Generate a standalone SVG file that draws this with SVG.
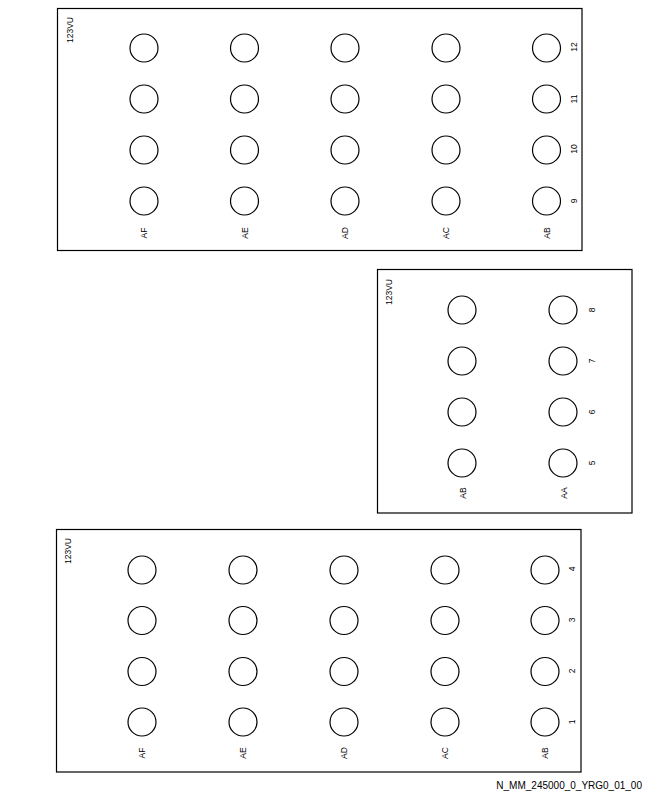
<svg xmlns="http://www.w3.org/2000/svg" width="648" height="792" viewBox="0 0 648 792">
<style>
.box{fill:#fff;stroke:#000;stroke-width:1.2}
.c{fill:#fff;stroke:#000;stroke-width:1.2}
.t{font-family:"Liberation Sans",Arial,sans-serif;font-size:8.5px;fill:#000;text-anchor:middle}
.s{font-family:"Liberation Sans",Arial,sans-serif;font-size:8.5px;fill:#000;text-anchor:start}
.f{font-family:"Liberation Sans",Arial,sans-serif;font-size:10px;fill:#000;text-anchor:end}
</style>
<rect width="648" height="792" fill="#fff"/>
<g id="panel-top">
<rect class="box" x="57.5" y="8.5" width="524.5" height="242"/>
<text class="s" transform="translate(73,43) rotate(-90)">123VU</text>
<g id="top-circles">
<circle class="c" cx="144" cy="48" r="14"/><circle class="c" cx="244.5" cy="48" r="14"/><circle class="c" cx="345" cy="48" r="14"/><circle class="c" cx="446" cy="48" r="14"/><circle class="c" cx="546.5" cy="48" r="14"/>
<circle class="c" cx="144" cy="99" r="14"/><circle class="c" cx="244.5" cy="99" r="14"/><circle class="c" cx="345" cy="99" r="14"/><circle class="c" cx="446" cy="99" r="14"/><circle class="c" cx="546.5" cy="99" r="14"/>
<circle class="c" cx="144" cy="150" r="14"/><circle class="c" cx="244.5" cy="150" r="14"/><circle class="c" cx="345" cy="150" r="14"/><circle class="c" cx="446" cy="150" r="14"/><circle class="c" cx="546.5" cy="150" r="14"/>
<circle class="c" cx="144" cy="201" r="14"/><circle class="c" cx="244.5" cy="201" r="14"/><circle class="c" cx="345" cy="201" r="14"/><circle class="c" cx="446" cy="201" r="14"/><circle class="c" cx="546.5" cy="201" r="14"/>
</g>
<text class="t" transform="translate(147,233) rotate(-90)">AF</text>
<text class="t" transform="translate(247.5,233) rotate(-90)">AE</text>
<text class="t" transform="translate(348,233) rotate(-90)">AD</text>
<text class="t" transform="translate(449,233) rotate(-90)">AC</text>
<text class="t" transform="translate(549.5,233) rotate(-90)">AB</text>
<text class="t" transform="translate(576.5,47) rotate(-90)">12</text>
<text class="t" transform="translate(576.5,99) rotate(-90)">11</text>
<text class="t" transform="translate(576.5,149) rotate(-90)">10</text>
<text class="t" transform="translate(576.5,201) rotate(-90)">9</text>
</g>
<g id="panel-middle">
<rect class="box" x="377.5" y="269.5" width="254.5" height="243.5"/>
<text class="s" transform="translate(392,305) rotate(-90)">123VU</text>
<g id="mid-circles">
<circle class="c" cx="462" cy="310" r="14"/><circle class="c" cx="563" cy="310" r="14"/>
<circle class="c" cx="462" cy="361" r="14"/><circle class="c" cx="563" cy="361" r="14"/>
<circle class="c" cx="462" cy="412" r="14"/><circle class="c" cx="563" cy="412" r="14"/>
<circle class="c" cx="462" cy="463" r="14"/><circle class="c" cx="563" cy="463" r="14"/>
</g>
<text class="t" transform="translate(465.5,493) rotate(-90)">AB</text>
<text class="t" transform="translate(566.5,493) rotate(-90)">AA</text>
<text class="t" transform="translate(595,310) rotate(-90)">8</text>
<text class="t" transform="translate(595,361) rotate(-90)">7</text>
<text class="t" transform="translate(595,412) rotate(-90)">6</text>
<text class="t" transform="translate(595,463) rotate(-90)">5</text>
</g>
<g id="panel-bottom">
<rect class="box" x="56.5" y="529.5" width="524.5" height="242.5"/>
<text class="s" transform="translate(71,564) rotate(-90)">123VU</text>
<g id="bot-circles">
<circle class="c" cx="142" cy="570" r="14"/><circle class="c" cx="243" cy="570" r="14"/><circle class="c" cx="344" cy="570" r="14"/><circle class="c" cx="445" cy="570" r="14"/><circle class="c" cx="545" cy="570" r="14"/>
<circle class="c" cx="142" cy="620.5" r="14"/><circle class="c" cx="243" cy="620.5" r="14"/><circle class="c" cx="344" cy="620.5" r="14"/><circle class="c" cx="445" cy="620.5" r="14"/><circle class="c" cx="545" cy="620.5" r="14"/>
<circle class="c" cx="142" cy="671.5" r="14"/><circle class="c" cx="243" cy="671.5" r="14"/><circle class="c" cx="344" cy="671.5" r="14"/><circle class="c" cx="445" cy="671.5" r="14"/><circle class="c" cx="545" cy="671.5" r="14"/>
<circle class="c" cx="142" cy="722" r="14"/><circle class="c" cx="243" cy="722" r="14"/><circle class="c" cx="344" cy="722" r="14"/><circle class="c" cx="445" cy="722" r="14"/><circle class="c" cx="545" cy="722" r="14"/>
</g>
<text class="t" transform="translate(145,753) rotate(-90)">AF</text>
<text class="t" transform="translate(246,753) rotate(-90)">AE</text>
<text class="t" transform="translate(347,753) rotate(-90)">AD</text>
<text class="t" transform="translate(448,753) rotate(-90)">AC</text>
<text class="t" transform="translate(548,753) rotate(-90)">AB</text>
<text class="t" transform="translate(575,569) rotate(-90)">4</text>
<text class="t" transform="translate(575,620) rotate(-90)">3</text>
<text class="t" transform="translate(575,671) rotate(-90)">2</text>
<text class="t" transform="translate(575,722) rotate(-90)">1</text>
</g>
<text class="f" x="642" y="789">N_MM_245000_0_YRG0_01_00</text>
</svg>
